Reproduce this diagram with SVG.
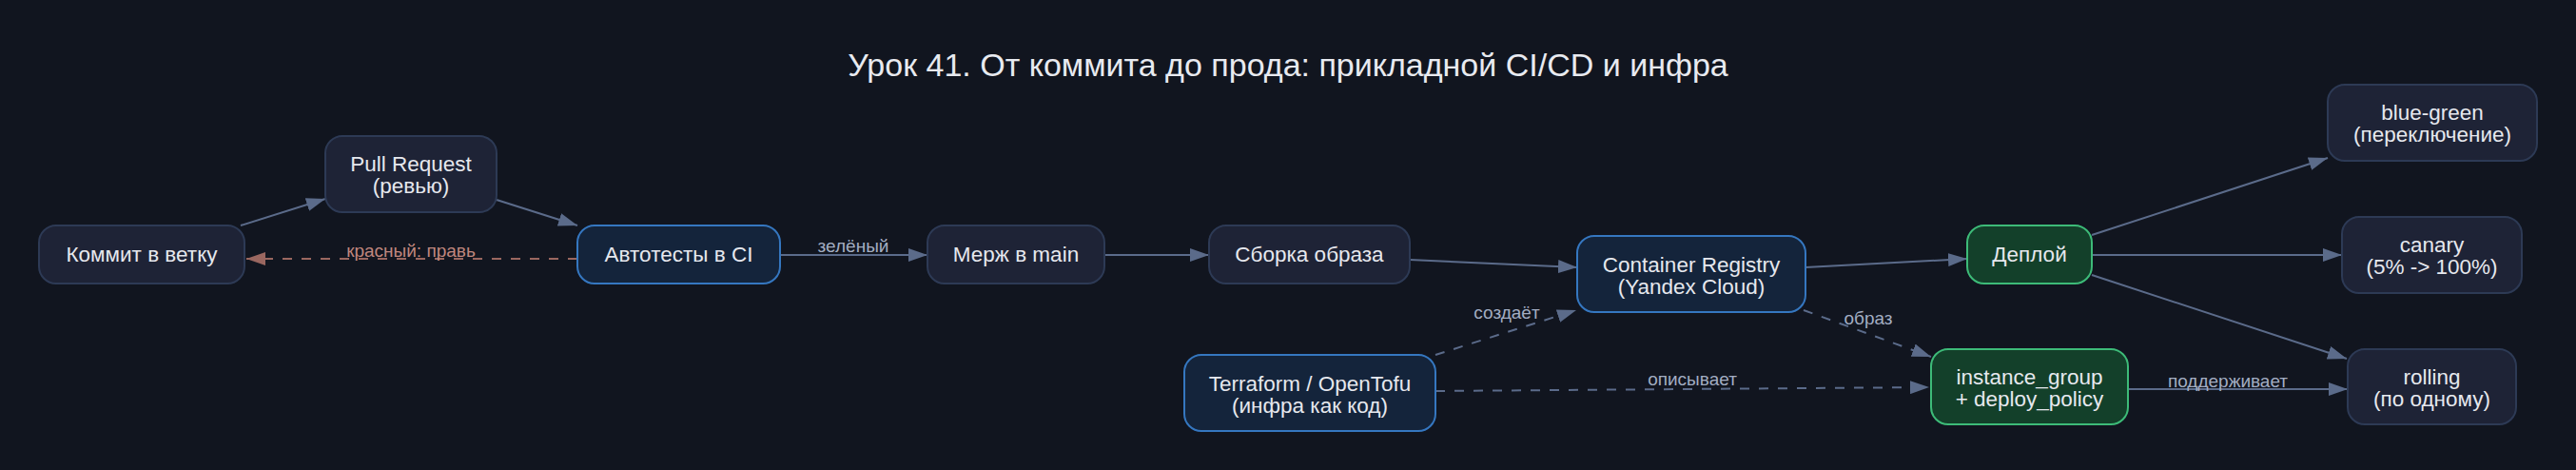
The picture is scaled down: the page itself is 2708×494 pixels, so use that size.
<svg xmlns="http://www.w3.org/2000/svg" width="2708" height="494" viewBox="0 0 2708 494">
<defs>
<style>
.bg{fill:#11151f}
.title{font-family:"Liberation Sans",Arial,sans-serif;font-size:34px;fill:#e8eaf0;text-anchor:middle}
.n rect{fill:#1e2336;stroke:#2d3a55;stroke-width:2}
.n.blue rect{fill:#14243b;stroke:#3577c0}
.n.green rect{fill:#13402a;stroke:#3dbb78}
.n text{font-family:"Liberation Sans",Arial,sans-serif;font-size:22.5px;fill:#e6e8ee;text-anchor:middle}
.e{fill:none;stroke:#5b6b8a;stroke-width:2}
.d{stroke-dasharray:10 10}
.red{stroke:#9a6760}
.lbl{font-family:"Liberation Sans",Arial,sans-serif;font-size:19px;fill:#a3adc2;text-anchor:middle}
.lbl.r{fill:#c0877e}
</style>
<marker id="a" viewBox="0 0 20 14" refX="20" refY="7" markerWidth="20" markerHeight="14" markerUnits="userSpaceOnUse" orient="auto"><path d="M0,0 L20,7 L0,14 z" fill="#5b6b8a"/></marker>
<marker id="ar" viewBox="0 0 20 14" refX="20" refY="7" markerWidth="20" markerHeight="14" markerUnits="userSpaceOnUse" orient="auto"><path d="M0,0 L20,7 L0,14 z" fill="#9a6760"/></marker>
</defs>
<rect class="bg" x="0" y="0" width="2708" height="494"/>
<text class="title" x="1354" y="80">Урок 41. От коммита до прода: прикладной CI/CD и инфра</text>

<g id="connectors">
<path class="e" d="M253,237 L342,209" marker-end="url(#a)"/>
<path class="e" d="M522,210 L607,237" marker-end="url(#a)"/>
<path class="e d red" d="M607,272 L259,272" marker-end="url(#ar)"/>
<text class="lbl r" x="432" y="270">красный: правь</text>
<path class="e" d="M820,268 L975,268" marker-end="url(#a)"/>
<text class="lbl" x="897" y="265">зелёный</text>
<path class="e" d="M1161,268 L1271,268" marker-end="url(#a)"/>
<path class="e" d="M1482,273 L1658,281" marker-end="url(#a)"/>
<path class="e" d="M1898,281 L2068,272" marker-end="url(#a)"/>
<path class="e d" d="M1509,373 L1657,326" marker-end="url(#a)"/>
<text class="lbl" x="1584" y="335">создаёт</text>
<path class="e d" d="M1896,326 L2030,375" marker-end="url(#a)"/>
<text class="lbl" x="1964" y="341">образ</text>
<path class="e d" d="M1509,411 L2028,407" marker-end="url(#a)"/>
<text class="lbl" x="1779" y="405">описывает</text>
<path class="e" d="M2199,247 L2447,166" marker-end="url(#a)"/>
<path class="e" d="M2199,268 L2462,268" marker-end="url(#a)"/>
<path class="e" d="M2199,289 L2467,377" marker-end="url(#a)"/>
<path class="e" d="M2237,409 L2468,409" marker-end="url(#a)"/>
<text class="lbl" x="2342" y="407">поддерживает</text>
</g>

<g id="commit" class="n"><rect x="41" y="237" width="216" height="61" rx="18"/><text x="149" y="275">Коммит в ветку</text></g>
<g id="pr" class="n"><rect x="342" y="143" width="180" height="80" rx="18"/><text x="432" y="180">Pull Request</text><text x="432" y="203">(ревью)</text></g>
<g id="autotests" class="n blue"><rect x="607" y="237" width="213" height="61" rx="18"/><text x="713.5" y="275">Автотесты в CI</text></g>
<g id="merge" class="n"><rect x="975" y="237" width="186" height="61" rx="18"/><text x="1068" y="275">Мерж в main</text></g>
<g id="build" class="n"><rect x="1271" y="237" width="211" height="61" rx="18"/><text x="1376.5" y="275">Сборка образа</text></g>
<g id="terraform" class="n blue"><rect x="1245" y="373" width="264" height="80" rx="18"/><text x="1377" y="411">Terraform / OpenTofu</text><text x="1377" y="434">(инфра как код)</text></g>
<g id="registry" class="n blue"><rect x="1658" y="248" width="240" height="80" rx="18"/><text x="1778" y="286">Container Registry</text><text x="1778" y="309">(Yandex Cloud)</text></g>
<g id="deploy" class="n green"><rect x="2068" y="237" width="131" height="61" rx="18"/><text x="2133.5" y="275">Деплой</text></g>
<g id="instance_group" class="n green"><rect x="2030" y="367" width="207" height="79" rx="18"/><text x="2133.5" y="404">instance_group</text><text x="2133.5" y="427">+ deploy_policy</text></g>
<g id="bluegreen" class="n"><rect x="2447" y="89" width="220" height="80" rx="18"/><text x="2557" y="126">blue-green</text><text x="2557" y="149">(переключение)</text></g>
<g id="canary" class="n"><rect x="2462" y="228" width="189" height="80" rx="18"/><text x="2556.5" y="265">canary</text><text x="2556.5" y="288">(5% -&gt; 100%)</text></g>
<g id="rolling" class="n"><rect x="2468" y="367" width="177" height="79" rx="18"/><text x="2556.5" y="404">rolling</text><text x="2556.5" y="427">(по одному)</text></g>
</svg>
